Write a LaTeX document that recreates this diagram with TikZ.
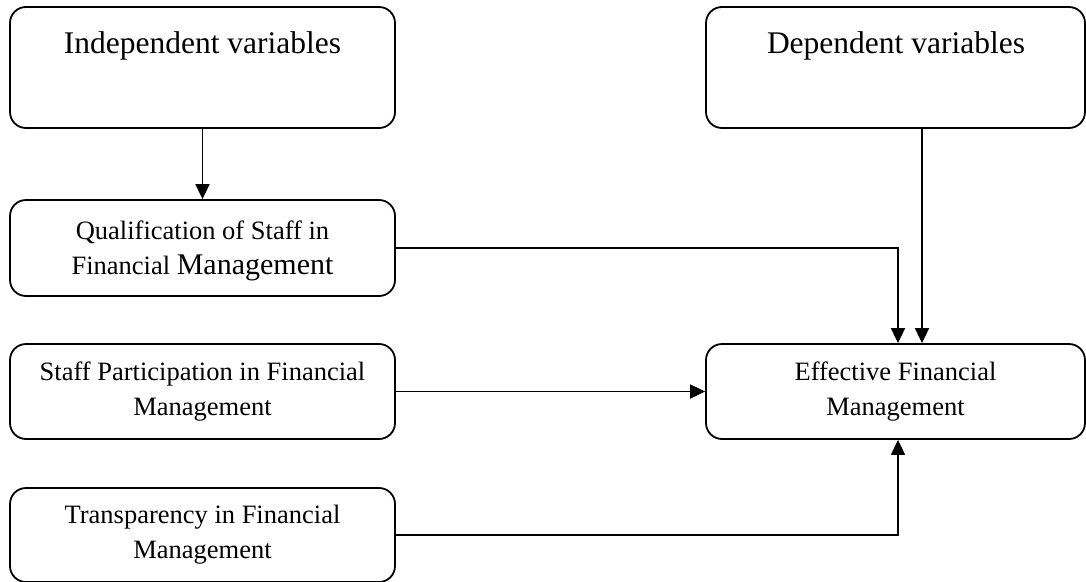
\documentclass[tikz,border=0pt]{standalone}
\usepackage{fontspec}
\setmainfont{Liberation Serif}
\usetikzlibrary{arrows.meta}
\begin{document}
\begin{tikzpicture}[x=1pt,y=-1pt,
  box/.style={draw, line width=1.8pt, rounded corners=16pt, minimum width=385pt,
    minimum height=95pt, inner sep=0pt, align=center,
    font=\fontsize{26.5}{35}\selectfont},
  rbox/.style={box, minimum width=379pt},
  titletext/.style={inner sep=0pt, anchor=base, font=\fontsize{31.5}{38}\selectfont},
  conn/.style={line width=1.8pt, -{Triangle[width=14pt,length=15pt]}}]
\useasboundingbox (0,0) rectangle (1086,581);
\node[box, minimum height=121pt] (indep) at (202.5,67.5) {};
\node[titletext] (indeplbl) at (202.5,53) {Independent variables};
\node[rbox, minimum height=121pt] (dep) at (895.5,67.5) {};
\node[titletext] (deplbl) at (896,53) {Dependent variables};
\node[box, minimum height=96pt, text depth=0pt] (qual) at (202.5,248)
  {Qualification of Staff in\\Financial {\fontsize{30}{35}\selectfont Management}};
\node[box] (staff) at (202.5,391.5) {Staff Participation in Financial\\Management};
\node[box, minimum height=94pt] (trans) at (202.5,535) {Transparency in Financial\\Management};
\node[rbox] (eff) at (895.5,391.5) {Effective Financial\\Management};
\draw[conn] (indep.south) -- (qual.north);
\draw[conn] (qual.east) -| ([xshift=2.5pt]eff.north);
\draw[conn] ([xshift=26.5pt]dep.south) -- ([xshift=26.5pt]eff.north);
\draw[conn] (staff.east) -- (eff.west);
\draw[conn] (trans.east) -| ([xshift=2.5pt]eff.south);
\end{tikzpicture}
\end{document}
